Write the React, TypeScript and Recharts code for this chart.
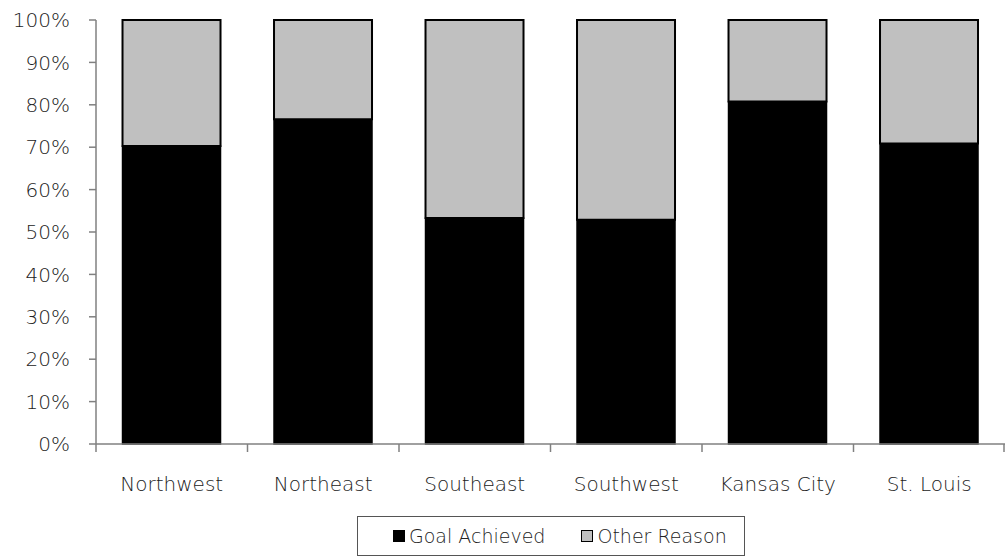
import { BarChart, Bar, XAxis, YAxis, Legend } from 'recharts'

const regions = ['Northwest', 'Northeast', 'Southeast', 'Southwest', 'Kansas City', 'St. Louis']
const goalAchieved = [70.3, 76.6, 53.3, 52.9, 80.8, 70.9]
const otherReason = [29.7, 23.4, 46.7, 47.1, 19.2, 29.1]
const yTicks = [0, 10, 20, 30, 40, 50, 60, 70, 80, 90, 100]

const data = regions.map((name, i) => ({
  name,
  goal: goalAchieved[i],
  other: otherReason[i],
}))

const FONT = '"DejaVu Sans", sans-serif'
const W = 1005
const H = 556
const LEFT = 96
const BAND = (W - LEFT) / regions.length

function CategoryTick(props: any) {
  const { x, y, payload, index } = props
  const left = x - BAND / 2
  return (
    <g>
      <line x1={left} y1={y - 8} x2={left} y2={y} stroke="#808080" strokeWidth={1.5} />
      {index === regions.length - 1 && (
        <line x1={left + BAND - 1} y1={y - 8} x2={left + BAND - 1} y2={y} stroke="#808080" strokeWidth={1.5} />
      )}
      <text x={x} y={y + 39} textAnchor="middle" fill="#222" fontSize={20} fontFamily={FONT} fontWeight={200}>
        {payload.value}
      </text>
    </g>
  )
}

function LegendBox() {
  const item = (fill: string, label: string, gap: number) => (
    <span style={{ display: 'inline-flex', alignItems: 'center', marginRight: gap }}>
      <span
        style={{
          display: 'inline-block',
          width: 10,
          height: 10,
          background: fill,
          border: '1.5px solid #000',
          marginRight: 4,
        }}
      />
      <span>{label}</span>
    </span>
  )
  return (
    <div
      style={{
        width: 388,
        height: 40,
        marginLeft: 357,
        border: '1px solid #555',
        boxSizing: 'border-box',
        display: 'flex',
        alignItems: 'center',
        paddingLeft: 35,
        fontFamily: FONT,
        fontWeight: 200,
        fontSize: 19,
        color: '#222',
        whiteSpace: 'nowrap',
      }}
    >
      {item('#000', 'Goal Achieved', 36)}
      {item('#c0c0c0', 'Other Reason', 0)}
    </div>
  )
}

export default function App() {
  return (
    <div style={{ position: 'absolute', left: 0, top: 0, width: W, height: H, background: '#fff' }}>
      <BarChart
        width={W}
        height={H}
        data={data}
        margin={{ top: 20, right: 0, bottom: 0, left: 0 }}
        barCategoryGap="17.5%"
      >
        <XAxis
          dataKey="name"
          axisLine={{ stroke: '#808080', strokeWidth: 1.5 }}
          tickLine={false}
          tick={<CategoryTick />}
          height={72}
          interval={0}
        />
        <YAxis
          domain={[0, 100]}
          ticks={yTicks}
          tickFormatter={(v: number) => `${v}%`}
          width={LEFT}
          axisLine={{ stroke: '#808080', strokeWidth: 1.5 }}
          tickLine={{ stroke: '#808080', strokeWidth: 1.5 }}
          tickSize={7}
          tickMargin={19}
          tick={{ fill: '#222', fontSize: 20, fontFamily: FONT, fontWeight: 200 }}
          interval={0}
        />
        <Legend
          verticalAlign="bottom"
          content={() => <LegendBox />}
          wrapperStyle={{ bottom: 0, left: 0, width: W, height: 40 }}
        />
        <Bar dataKey="goal" stackId="a" fill="#000" stroke="#000" strokeWidth={1.5} isAnimationActive={false} />
        <Bar dataKey="other" stackId="a" fill="#c0c0c0" stroke="#000" strokeWidth={2} isAnimationActive={false} />
      </BarChart>
    </div>
  )
}
